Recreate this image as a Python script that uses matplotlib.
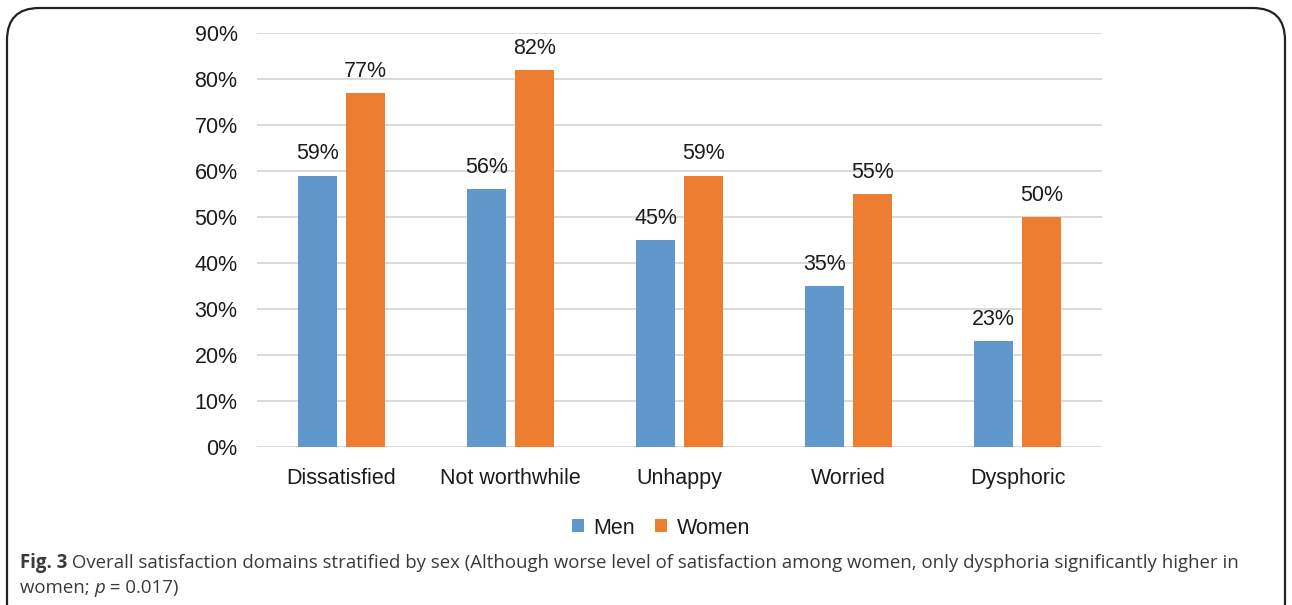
import matplotlib
matplotlib.use('Agg')
import matplotlib.pyplot as plt
import numpy as np
from matplotlib.patches import FancyBboxPatch

categories = ['Dissatisfied', 'Not worthwhile', 'Unhappy', 'Worried', 'Dysphoric']
men = [59, 56, 45, 35, 23]
women = [77, 82, 59, 55, 50]
series_names = ['Men', 'Women']
y_ticks = [0, 10, 20, 30, 40, 50, 60, 70, 80, 90]

blue = '#6098cc'
orange = '#ed7d31'
ink = '#1c1c1c'
fs = 15.5

plt.rcParams['font.family'] = ['Liberation Sans', 'DejaVu Sans']

W, H = 1292, 605
fig = plt.figure(figsize=(W / 100, H / 100), dpi=100)

# frame round the figure
frame = FancyBboxPatch((7 / W, -0.05), 1278 / W, (H - 8) / H + 0.05,
                       boxstyle='round,pad=0,rounding_size=0.025',
                       transform=fig.transFigure, fill=False,
                       edgecolor='#222222', linewidth=1.6, mutation_aspect=W / H)
fig.patches.append(frame)

ax = fig.add_axes([257 / W, (H - 447) / H, 845 / W, 414 / H])

x = np.arange(len(categories))
off = 0.142
bw = 0.23
b1 = ax.bar(x - off, men, bw, color=blue, label=series_names[0], zorder=3)
b2 = ax.bar(x + off, women, bw, color=orange, label=series_names[1], zorder=3)

for bars, vals in ((b1, men), (b2, women)):
    for rect, v in zip(bars, vals):
        ax.annotate(f'{v}%', (rect.get_x() + rect.get_width() / 2, v),
                    xytext=(0, 8), textcoords='offset points',
                    ha='center', va='bottom', fontsize=fs, color=ink)

ax.set_xlim(-0.5, len(categories) - 0.5)
ax.set_ylim(0, 90)
ax.set_yticks(y_ticks)
ax.set_yticklabels([f'{t}%' for t in y_ticks])
ax.set_xticks(x)
ax.set_xticklabels(categories)
ax.tick_params(axis='y', length=0, pad=14, labelsize=fs, labelcolor=ink)
ax.tick_params(axis='x', length=0, pad=15, labelsize=fs, labelcolor=ink)
ax.grid(axis='y', color='#d9d9d9', linewidth=1.4, zorder=0)
for s in ax.spines.values():
    s.set_visible(False)

ax.legend(loc='center', bbox_to_anchor=(661 / W, (H - 528) / H),
          bbox_transform=fig.transFigure, ncol=2, frameon=False,
          fontsize=fs, handlelength=0.55, handleheight=0.55,
          handletextpad=0.45, columnspacing=0.95, labelcolor=ink)

# caption, drawn piece by piece so that bold and italic parts sit inline
cap_color = '#3a3a3a'
cap_font = 'Open Sans'
cap_size = 13.4
fig.canvas.draw()
renderer = fig.canvas.get_renderer()


def put_run(pieces, x0, y0):
    xp = x0
    for txt, weight, style in pieces:
        t = fig.text(xp / W, (H - y0) / H, txt, fontsize=cap_size,
                     family=cap_font, weight=weight, style=style,
                     color=cap_color, va='center', ha='left')
        bb = t.get_window_extent(renderer)
        xp += bb.width


put_run([('Fig. 3', 'bold', 'normal'),
         (' Overall satisfaction domains stratified by sex (Although worse level of satisfaction among women, '
          'only dysphoria significantly higher in', 'normal', 'normal')], 20, 563)
put_run([('women; ', 'normal', 'normal'), ('p', 'normal', 'italic'),
         (' = 0.017)', 'normal', 'normal')], 20, 588)

fig.savefig('out.png', dpi=100)
